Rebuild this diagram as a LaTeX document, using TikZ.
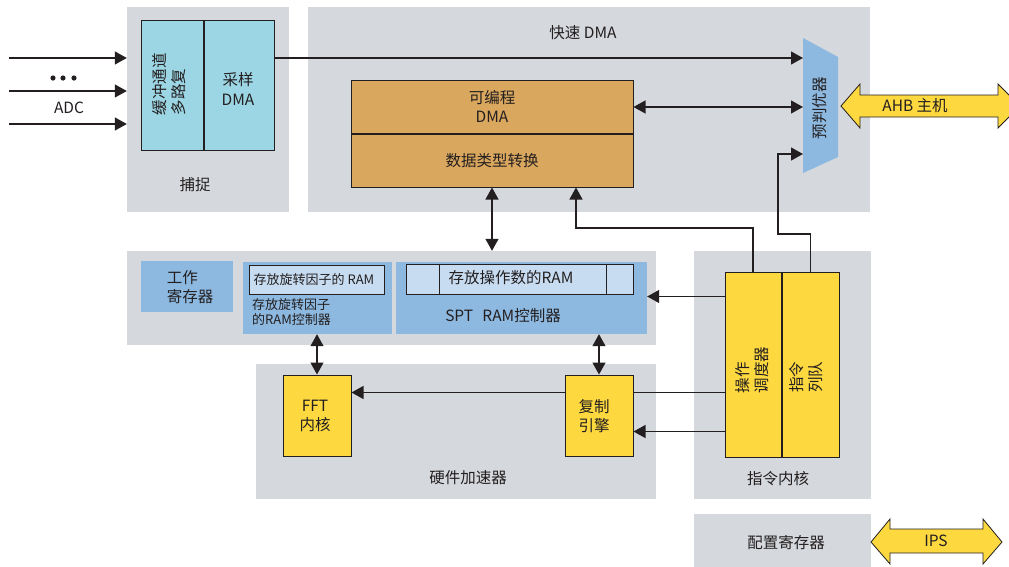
\documentclass[tikz,border=0pt]{standalone}
\usepackage{fontspec}
\setmainfont{Noto Sans CJK SC}
\usetikzlibrary{arrows.meta,calc,positioning}

\definecolor{panelgray}{HTML}{D5D8DC}
\definecolor{capcyan}{HTML}{9CD5E3}
\definecolor{dmaorange}{HTML}{DAA75E}
\definecolor{coreyellow}{HTML}{FDD83F}
\definecolor{sptblue}{HTML}{8DB9E1}
\definecolor{ramblue}{HTML}{C7DCF0}
\definecolor{ink}{HTML}{231F20}

\begin{document}
\begin{tikzpicture}[x=1pt, y=-1pt,
        panel/.style={fill=panelgray, inner sep=0pt},
        box/.style={draw=ink, line width=1pt, inner sep=0pt},
        lbl/.style={text=ink, font=\fontsize{15.5}{19.5}\selectfont, align=center, inner sep=0pt},
        small/.style={text=ink, font=\fontsize{13}{15}\selectfont, align=left, inner sep=0pt},
        arr/.style={draw=ink, line width=1.2pt, -{Triangle[length=12pt,width=13pt]}},
        darr/.style={draw=ink, line width=1.2pt, {Triangle[length=12pt,width=13pt]}-{Triangle[length=12pt,width=13pt]}},
        bigarrow/.style={fill=coreyellow, draw=ink, line width=0.8pt}]
        \useasboundingbox (0,0) rectangle (1009,566);
        % grey areas
        \node[panel, minimum width=162pt, minimum height=205pt] (capp) at (208,109.5) {};
        \node[panel, minimum width=562pt, minimum height=205pt] (fdmap) at (589,109.5) {};
        \node[panel, minimum width=529pt, minimum height=94pt] (sptp) at (391.5,298) {};
        \node[panel, minimum width=400pt, minimum height=135pt] (hwp) at (456,431.5) {};
        \node[panel, minimum width=177pt, minimum height=248pt] (corep) at (782.5,375) {};
        \node[panel, minimum width=177pt, minimum height=56pt] (cfgp) at (782.5,542) {};
        \node[lbl] (capl) at (195,185) {捕捉};
        \node[lbl] (fdmal) at (583,33) {快速 DMA};
        \node[lbl] (hwl) at (468,478) {硬件加速器};
        \node[lbl] (corel) at (778,479) {指令内核};
        \node[lbl] (cfgl) at (786,543) {配置寄存器};

        % capture
        \node[box, fill=capcyan, minimum width=62pt, minimum height=130pt] (mux) at (172,85) {};
        \node[box, fill=capcyan, minimum width=70pt, minimum height=130pt, right=0pt of mux] (sdma) {};
        \node[lbl, rotate=90, align=left] (muxt) at (169,84) {缓冲通道\\多路复};
        \node[lbl] (sdmat) at (238,89) {采样\\DMA};
        \foreach \y [count=\i] in {58,91,124} {
            \coordinate (adc\i) at (9,\y);
            \draw[arr] (adc\i) -- (adc\i -| capp.west);
        }
        \foreach \x in {53,63,74}
            \fill[ink] (\x,78) circle (2.6pt);
        \node[lbl] (adcl) at (69,108) {ADC};

        % fast DMA
        \node[box, fill=dmaorange, minimum width=282pt, minimum height=53pt] (pdma) at (492,106.5) {};
        \node[box, fill=dmaorange, minimum width=282pt, minimum height=53pt, below=0pt of pdma] (conv) {};
        \node[lbl] (pdmat) at (pdma) {可编程\\DMA};
        \node[lbl] (convt) at (conv) {数据类型转换};
        \fill[sptblue] (803,38) -- (838,57) -- (838,157) -- (803,173) -- cycle;
        \node[lbl, rotate=90] (arb) at (820,108) {预判优器};
        \coordinate (arb1) at (803,58);
        \coordinate (arb2) at (803,107);
        \coordinate (arb3) at (803,154);
        \draw[arr] (sdma.east |- arb1) -- (arb1);
        \draw[darr] (pdma.east |- arb2) -- (arb2);
        \draw[darr] (conv.south) -- (conv.south |- sptp.north);

        % RAM controllers
        \node[fill=sptblue, minimum width=92pt, minimum height=51pt, inner sep=0pt] (wreg) at (187,286.5) {};
        \node[lbl, align=left] (wregt) at (190,287) {工作\\寄存器};
        \node[fill=sptblue, minimum width=149pt, minimum height=72pt, inner sep=0pt] (twctl) at (317.5,298) {};
        \node[box, fill=ramblue, minimum width=135pt, minimum height=29pt] (twram) at (316.5,279.5) {};
        \node[small] (twramt) at (314,280) {存放旋转因子的 RAM};
        \node[small, anchor=west] (twctlt) at (252,312) {存放旋转因子\\的RAM控制器};
        \node[fill=sptblue, minimum width=251pt, minimum height=72pt, inner sep=0pt] (sptctl) at (521.5,298) {};
        \node[box, fill=ramblue, minimum width=227pt, minimum height=30pt] (sptram) at (519.5,279) {};
        \draw[ink, line width=1pt] (sptram.north -| 439,0) -- (sptram.south -| 439,0);
        \draw[ink, line width=1pt] (sptram.north -| 606,0) -- (sptram.south -| 606,0);
        \node[lbl] (sptramt) at (511,278) {存放操作数的RAM};
        \node[lbl] (sptctlt) at (503,316) {SPT\hspace{0.6em}RAM控制器};

        % instruction core
        \node[box, fill=coreyellow, minimum width=56pt, minimum height=185pt] (sched) at (753,364.5) {};
        \node[box, fill=coreyellow, minimum width=57pt, minimum height=185pt, right=0pt of sched] (queue) {};
        \node[lbl, rotate=90, align=left] (schedt) at (752,370) {操作\\调度器};
        \node[lbl, rotate=90, align=left] (queuet) at (806,377) {指令\\列队};
        \coordinate (t1) at (576,228);
        \coordinate (t2) at (778,234);
        \draw[arr] (sched.north) |- (t1) -- (t1 |- conv.south);
        \draw[arr] (queue.north) |- (t2) |- (arb3);
        \draw[arr] ($(sched.north west)+(0,25)$) coordinate (o1) -- (o1 -| sptctl.east);

        % accelerator
        \node[box, fill=coreyellow, minimum width=68pt, minimum height=81pt] (fft) at (317,415.5) {};
        \node[lbl] (fftt) at (315,416) {FFT\\内核};
        \draw[arr] ($(sched.north west)+(0,121)$) coordinate (o2) -- (o2 -| fft.east);
        \node[box, fill=coreyellow, minimum width=68pt, minimum height=81pt] (copy) at (599,415.5) {};
        \node[lbl] (copyt) at (594,416) {复制\\引擎};
        \draw[arr] ($(sched.north west)+(0,160)$) coordinate (o3) -- (o3 -| copy.east);
        \draw[darr] (twctl.south -| fft.north) -- (fft.north);
        \draw[darr] (sptctl.south -| copy.north) -- (copy.north);

        % bus arrows
        \draw[bigarrow] (841,106) -- (860,84) -- (860,95) -- (998,95) -- (998,84) -- (1020,106)
            -- (998,128) -- (998,117) -- (860,117) -- (860,128) -- cycle;
        \node[lbl] (ahb) at (915,106) {AHB 主机};
        \draw[bigarrow] (871,542) -- (890,519) -- (890,529) -- (983,529) -- (983,519) -- (1002,542)
            -- (983,564) -- (983,553) -- (890,553) -- (890,564) -- cycle;
        \node[lbl] (ips) at (936,541) {IPS};
    \end{tikzpicture}
\end{document}
